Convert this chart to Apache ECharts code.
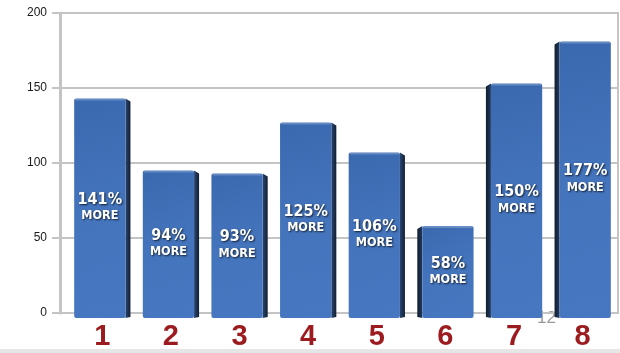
<!DOCTYPE html>
<html><head><meta charset="utf-8">
<script src="https://cdn.jsdelivr.net/npm/echarts@6/dist/echarts.min.js"></script>
<style>html,body{margin:0;padding:0;background:#fff}#c{width:620px;height:353px}</style>
</head><body><div id="c"></div>
<script>
const categories = ['1','2','3','4','5','6','7','8'];
const values = [143, 95, 93, 127, 107, 58, 153, 181];
const percentLabels = ['141%','94%','93%','125%','106%','58%','150%','177%'];
const yTicks = [0, 50, 100, 150, 200];
const pageNumber = '12';

const chart = echarts.init(document.getElementById('c'));
const data = values.map((v, i) => [i, v]);

function renderItem(params, api) {
  const i = api.value(0), v = api.value(1);
  const top = api.coord([i, v]);
  const base = api.coord([i, 0]);
  const band = api.size([1, 0])[0];
  const w = band * 0.82;
  const side = 5;
  const leftSide = i >= 5;
  const x0 = top[0] - w / 2;
  const y0 = top[1];
  const yb = base[1] + 5;
  const fw = w - side;
  const fx = leftSide ? x0 + side : x0;
  let sidePts;
  if (leftSide) {
    sidePts = [[fx, y0], [fx - side, y0 + 3], [fx - side, yb - 1], [fx, yb]];
  } else {
    sidePts = [[fx + fw, y0], [fx + fw + side, y0 + 3], [fx + fw + side, yb - 1], [fx + fw, yb]];
  }
  const shadow = { textShadowColor: 'rgba(0,0,0,0.75)', textShadowBlur: 2, textShadowOffsetX: 1, textShadowOffsetY: 1 };
  return {
    type: 'group',
    children: [
      { type: 'polygon', shape: { points: sidePts },
        style: { fill: { type: 'linear', x: 0, y: 0, x2: 1, y2: 0,
          colorStops: leftSide ? [{offset:0,color:'#111d2e'},{offset:1,color:'#223a5e'}]
                               : [{offset:0,color:'#2a4670'},{offset:1,color:'#121f33'}] } } },
      { type: 'rect', shape: { x: fx, y: y0, width: fw, height: yb - y0, r: [2, 2, 2, 2] },
        style: { fill: { type: 'linear', x: 0, y: 0, x2: 1, y2: 1,
          colorStops: [{offset:0,color:'#3b69b0'},{offset:0.5,color:'#4474bc'},{offset:1,color:'#4677c0'}] } } },
      { type: 'rect', shape: { x: fx + 1, y: y0, width: fw - 2, height: 2 },
        style: { fill: 'rgba(255,255,255,0.22)' } },
      { type: 'text', x: fx + fw / 2, y: (y0 + base[1]) / 2 + 1,
        style: { text: '{a|' + percentLabels[i] + '}\n{b|MORE}', align: 'center', verticalAlign: 'middle',
          rich: {
            a: Object.assign({ fontFamily: 'DejaVu Sans Condensed', fontWeight: 'bold', fontSize: 16, fill: '#fff', lineHeight: 18 }, shadow),
            b: Object.assign({ fontFamily: 'DejaVu Sans Condensed', fontWeight: 'bold', fontSize: 12.5, fill: '#fff', lineHeight: 14 }, shadow)
          } } }
    ]
  };
}

chart.setOption({
  animation: false,
  grid: [
    { left: 60, right: 2, top: 13, bottom: 40, show: true, borderColor: '#c4c4c4', borderWidth: 2, backgroundColor: 'transparent' },
    { left: 68, right: 3, top: 13, bottom: 40 }
  ],
  xAxis: [
    { gridIndex: 0, type: 'value', min: 0, max: 1, show: false },
    { gridIndex: 1, type: 'category', data: categories,
      axisLine: { show: false }, axisTick: { show: false },
      axisLabel: { color: '#9b1b1f', fontSize: 29, fontWeight: 'bold', fontFamily: 'Liberation Sans', margin: 9 } }
  ],
  yAxis: [
    { gridIndex: 0, type: 'value', min: 0, max: 200, interval: 50,
      axisLine: { show: true, lineStyle: { color: '#c4c4c4', width: 3 } },
      axisTick: { show: true, length: 8, lineStyle: { color: '#c4c4c4', width: 2 } },
      splitLine: { show: true, lineStyle: { color: '#c4c4c4', width: 2 } },
      axisLabel: { color: '#1a1a1a', fontSize: 12, fontFamily: 'Liberation Sans', margin: 13,
        formatter: v => yTicks.includes(v) ? String(v) : '' } },
    { gridIndex: 1, type: 'value', min: 0, max: 200, interval: 50, show: false }
  ],
  series: [
    { type: 'custom', xAxisIndex: 1, yAxisIndex: 1, data: data, renderItem: renderItem, clip: false }
  ],
  graphic: [
    { type: 'rect', left: 0, top: 349, shape: { width: 620, height: 4 }, style: { fill: '#e6e6e6' } },
    { type: 'text', left: 537, top: 310, style: { text: pageNumber, fill: '#9a9a9a', fontSize: 17, fontFamily: 'Liberation Sans' } }
  ]
});
</script></body></html>
